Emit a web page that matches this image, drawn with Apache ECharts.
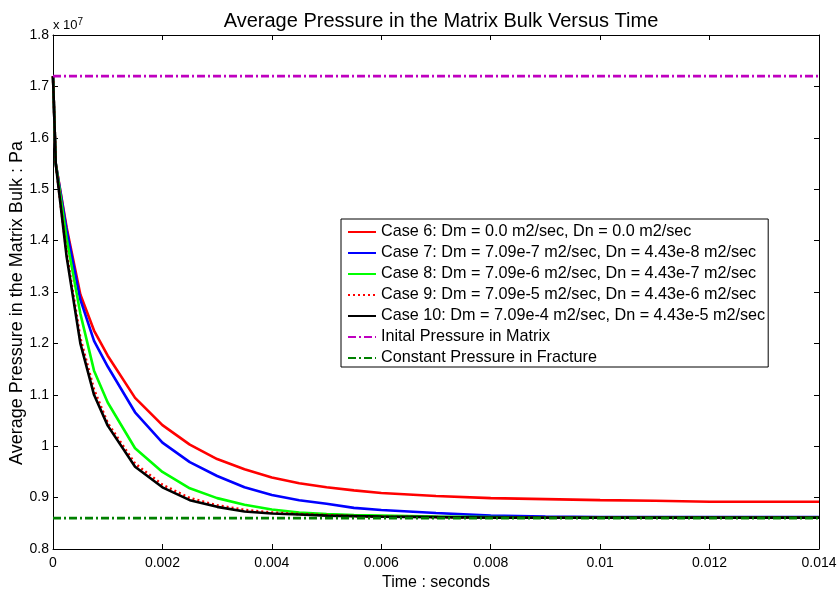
<!DOCTYPE html>
<html>
<head>
<meta charset="utf-8">
<script src="https://cdn.jsdelivr.net/npm/echarts@6/dist/echarts.min.js"></script>
<style>
html,body{margin:0;padding:0;background:#fff;}
#main{width:839px;height:590px;}
</style>
</head>
<body>
<div id="main"></div>
<script>
// time steps (seconds)
var times = [0, 0.00005, 0.00025, 0.0005, 0.00075, 0.001, 0.0015, 0.002, 0.0025, 0.003, 0.0035, 0.004, 0.0045, 0.005, 0.0055, 0.006, 0.007, 0.008, 0.009, 0.01, 0.011, 0.012, 0.013, 0.014];
// average pressure, units of 1e7 Pa
var case6  = [1.72, 1.55, 1.425, 1.295, 1.225, 1.176, 1.094, 1.041, 1.003, 0.975, 0.955, 0.939, 0.928, 0.920, 0.914, 0.909, 0.903, 0.899, 0.897, 0.895, 0.894, 0.892, 0.892, 0.892];
var case7  = [1.72, 1.55, 1.42, 1.285, 1.205, 1.155, 1.066, 1.007, 0.969, 0.942, 0.920, 0.905, 0.895, 0.888, 0.880, 0.876, 0.870, 0.865, 0.863, 0.862, 0.862, 0.862, 0.862, 0.862];
var case8  = [1.72, 1.55, 1.403, 1.258, 1.147, 1.085, 0.996, 0.950, 0.918, 0.899, 0.886, 0.877, 0.871, 0.868, 0.866, 0.865, 0.863, 0.862, 0.861, 0.861, 0.861, 0.861, 0.861, 0.861];
var case9  = [1.72, 1.55, 1.375, 1.21, 1.11, 1.045, 0.966, 0.925, 0.899, 0.885, 0.876, 0.871, 0.868, 0.866, 0.864, 0.863, 0.862, 0.861, 0.861, 0.861, 0.861, 0.861, 0.861, 0.861];
var case10 = [1.72, 1.55, 1.368, 1.20, 1.10, 1.04, 0.960, 0.920, 0.895, 0.882, 0.873, 0.869, 0.867, 0.865, 0.864, 0.863, 0.862, 0.861, 0.861, 0.861, 0.861, 0.861, 0.861, 0.861];
var initialPressure = 1.72;
var fracturePressure = 0.86;
var tRange = [0, 0.014];

var names = [
    "Case 6: Dm = 0.0 m2/sec, Dn = 0.0 m2/sec",
    "Case 7: Dm = 7.09e-7 m2/sec, Dn = 4.43e-8 m2/sec",
    "Case 8: Dm = 7.09e-6 m2/sec, Dn = 4.43e-7 m2/sec",
    "Case 9: Dm = 7.09e-5 m2/sec, Dn = 4.43e-6 m2/sec",
    "Case 10: Dm = 7.09e-4 m2/sec, Dn = 4.43e-5 m2/sec",
    "Inital Pressure in Matrix",
    "Constant Pressure in Fracture"
];

function pairs(ys) {
    var out = [];
    for (var i = 0; i < times.length; i++) out.push([times[i], ys[i]]);
    return out;
}
function flat(v) {
    return [[tRange[0], v], [tRange[1], v]];
}
function curve(name, ys, color, type) {
    return {
        name: name, type: 'line', data: pairs(ys),
        symbol: 'none', showSymbol: false, animation: false,
        lineStyle: {color: color, width: 2.6, type: type || 'solid'},
        itemStyle: {color: color}
    };
}
function hline(name, v, color) {
    return {
        name: name, type: 'line', data: flat(v),
        symbol: 'none', showSymbol: false, animation: false,
        lineStyle: {color: color, width: 2.6, type: [8, 3, 2, 3]},
        itemStyle: {color: color}
    };
}

var font = 'Liberation Sans, Arial, sans-serif';
var axisCommon = {
    axisLine: {show: true, onZero: false, lineStyle: {color: '#000', width: 1}},
    axisTick: {show: true, inside: true, length: 5, lineStyle: {color: '#000'}},
    splitLine: {show: false}
};

var myChart = echarts.init(document.getElementById('main'));
var option = {
    backgroundColor: '#fff',
    animation: false,
    textStyle: {fontFamily: font},
    title: {
        text: 'Average Pressure in the Matrix Bulk Versus Time',
        left: 436, top: 6, textAlign: 'center',
        textStyle: {fontSize: 20, fontWeight: 'normal', color: '#000', fontFamily: font}
    },
    grid: {left: 53, right: 20, top: 35, bottom: 41, containLabel: false, outerBoundsMode: 'none'},
    legend: {
        orient: 'vertical', left: 341, top: 219,
        backgroundColor: '#fff', borderColor: '#000', borderWidth: 1,
        padding: [5, 3, 1, 6], itemWidth: 28, itemHeight: 16, itemGap: 5,
        itemStyle: {opacity: 0},
        textStyle: {fontSize: 16.2, color: '#000', fontFamily: font},
        data: names
    },
    xAxis: [
        Object.assign({
            type: 'value', min: 0, max: 0.014, interval: 0.002,
            name: 'Time : seconds', nameLocation: 'middle', nameGap: 22,
            nameTextStyle: {fontSize: 16, color: '#000', fontFamily: font},
            axisLabel: {fontSize: 14, color: '#000', margin: 7, fontFamily: font}
        }, axisCommon),
        Object.assign({
            type: 'value', min: 0, max: 0.014, interval: 0.002, position: 'top',
            axisLabel: {show: false}
        }, axisCommon)
    ],
    yAxis: [
        Object.assign({
            type: 'value', min: 0.8, max: 1.8, interval: 0.1,
            axisLabel: {fontSize: 14, color: '#000', margin: 4, fontFamily: font}
        }, axisCommon),
        Object.assign({
            type: 'value', min: 0.8, max: 1.8, interval: 0.1, position: 'right',
            axisLabel: {show: false}
        }, axisCommon)
    ],
    graphic: [{
        type: 'text', left: 53, top: 17,
        style: {
            text: '{b|x 10}{s|7}',
            rich: {
                b: {fontSize: 13, fill: '#000', fontFamily: font},
                s: {fontSize: 10, fill: '#000', fontFamily: font, verticalAlign: 'top', padding: [0, 0, 7, 0]}
            }
        }
    }, {
        type: 'text', x: 17, y: 303, rotation: Math.PI / 2,
        style: {
            text: 'Average Pressure in the Matrix Bulk : Pa',
            fontSize: 18, fill: '#000', fontFamily: font,
            align: 'center', verticalAlign: 'middle'
        }
    }],
    series: [
        curve(names[0], case6, '#ff0000'),
        curve(names[1], case7, '#0000ff'),
        curve(names[2], case8, '#00ff00'),
        curve(names[3], case9, '#ff0000', [2, 3]),
        curve(names[4], case10, '#000000'),
        hline(names[5], initialPressure, '#bf00bf'),
        hline(names[6], fracturePressure, '#008000')
    ]
};
myChart.setOption(option);
</script>
</body>
</html>
